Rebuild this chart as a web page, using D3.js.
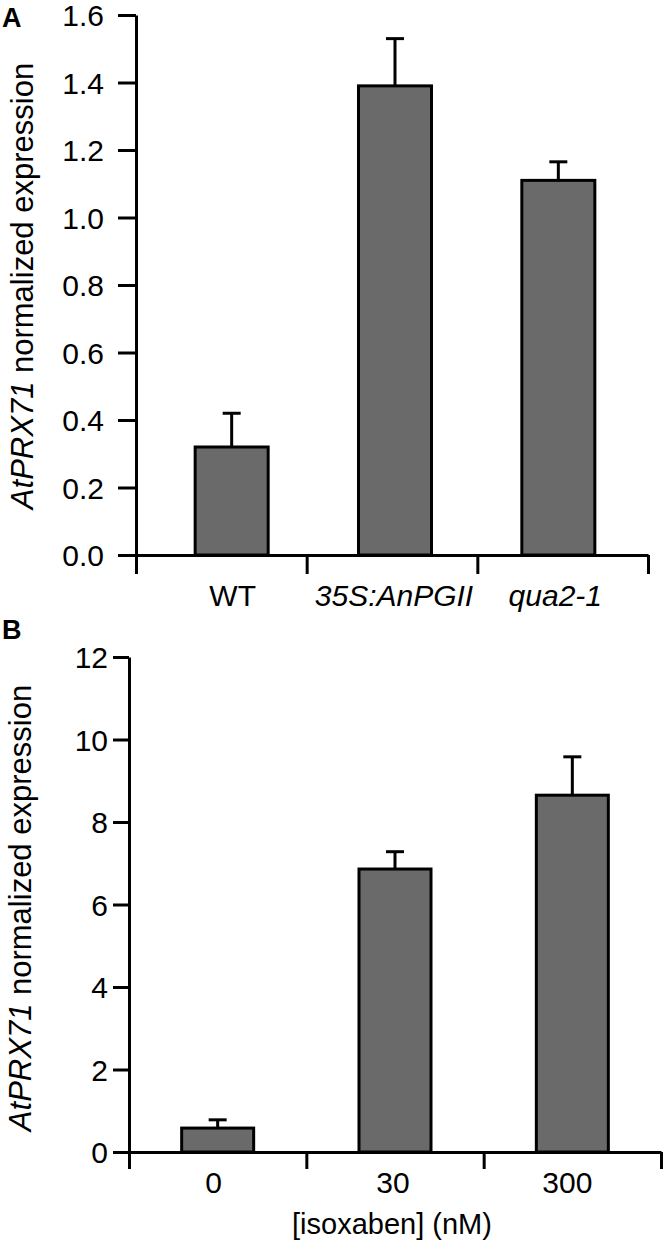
<!DOCTYPE html>
<html>
<head>
<meta charset="utf-8">
<script src="https://cdn.jsdelivr.net/npm/d3@7"></script>
<style>
  body { margin: 0; background: #fff; }
  svg text { font-family: "Liberation Sans", Arial, Helvetica, sans-serif; fill: #000; }
  .axis path, .axis line { stroke: #000; stroke-width: 3; }
</style>
</head>
<body>
<div id="vis"></div>
<script>
// Panel A: expression in genotypes
var categoriesA = ['WT', '35S:AnPGII', 'qua2-1'];
var italicA     = [false, true, true];
var meansA      = [0.32, 1.39, 1.11];
var errA        = [0.10, 0.14, 0.055];
var ticksA      = [0, 0.2, 0.4, 0.6, 0.8, 1.0, 1.2, 1.4, 1.6];

// Panel B: expression vs isoxaben dose
var categoriesB = ['0', '30', '300'];
var meansB      = [0.58, 6.86, 8.65];
var errB        = [0.20, 0.42, 0.93];
var ticksB      = [0, 2, 4, 6, 8, 10, 12];

var W = 666, H = 1243;
var svg = d3.select('#vis').append('svg')
  .attr('width', W).attr('height', H);

function panel(opt) {
  var g = svg.append('g');

  var y = d3.scaleLinear().domain(opt.yDomain).range([opt.y0, opt.y1]);
  // bar positions
  var xb = d3.scaleBand().domain(opt.cats).range(opt.barRange)
    .paddingInner(opt.pad).paddingOuter(opt.pad / 2);
  // category boundary ticks on the x axis
  var xt = d3.scaleLinear().domain([0, opt.cats.length]).range(opt.tickRange);

  // y axis
  var ya = g.append('g').attr('class', 'axis')
    .attr('transform', `translate(${opt.tickRange[0]},0)`)
    .call(d3.axisLeft(y).tickValues(opt.ticks).tickFormat(opt.fmt)
      .tickSize(opt.tickLen).tickSizeOuter(0).tickPadding(opt.tickPad));
  ya.selectAll('text').style('font-size', '30px').attr('dy', '0.36em');

  // x axis (boundary ticks pointing down)
  g.append('g').attr('class', 'axis')
    .attr('transform', `translate(0,${opt.y0})`)
    .call(d3.axisBottom(xt).tickValues(d3.range(opt.cats.length + 1))
      .tickFormat('').tickSize(opt.tickLen + 1).tickSizeOuter(0));

  // bars
  g.selectAll('rect.bar').data(opt.means).join('rect')
    .attr('class', 'bar')
    .attr('x', (d, i) => xb(opt.cats[i]))
    .attr('width', xb.bandwidth())
    .attr('y', d => y(d))
    .attr('height', d => y(0) - y(d))
    .attr('fill', '#6a6a6a')
    .attr('stroke', '#000')
    .attr('stroke-width', 3);

  // upper error bars
  var cx = (i) => xb(opt.cats[i]) + xb.bandwidth() / 2;
  g.selectAll('line.err').data(opt.means).join('line')
    .attr('class', 'err')
    .attr('x1', (d, i) => cx(i)).attr('x2', (d, i) => cx(i))
    .attr('y1', d => y(d)).attr('y2', (d, i) => y(d + opt.err[i]))
    .attr('stroke', '#000').attr('stroke-width', 3);
  g.selectAll('line.cap').data(opt.means).join('line')
    .attr('class', 'cap')
    .attr('x1', (d, i) => cx(i) - 9).attr('x2', (d, i) => cx(i) + 9)
    .attr('y1', (d, i) => y(d + opt.err[i])).attr('y2', (d, i) => y(d + opt.err[i]))
    .attr('stroke', '#000').attr('stroke-width', 3);

  // category labels
  g.selectAll('text.cat').data(opt.cats).join('text')
    .attr('class', 'cat')
    .attr('x', (d, i) => cx(i) + (opt.labelShift ? opt.labelShift[i] : 0))
    .attr('y', opt.labelY)
    .attr('text-anchor', 'middle')
    .style('font-size', '30px')
    .style('font-style', (d, i) => opt.italic && opt.italic[i] ? 'italic' : 'normal')
    .text(d => d);

  // y title
  var yt = g.append('text')
    .attr('transform', `translate(${opt.titleX},${opt.titleY}) rotate(-90)`)
    .attr('text-anchor', 'middle')
    .style('font-size', '31px');
  yt.append('tspan').style('font-style', 'italic').text('AtPRX71');
  yt.append('tspan').text(' normalized expression');

  // panel letter
  g.append('text').attr('x', 2).attr('y', opt.letterY)
    .style('font-size', '27px').style('font-weight', 'bold')
    .text(opt.letter);

  return g;
}

panel({
  cats: categoriesA, means: meansA, err: errA, italic: italicA,
  ticks: ticksA, fmt: d3.format('.1f'),
  yDomain: [0, 1.6], y0: 555, y1: 15,
  barRange: [150, 640], pad: 0.553,
  tickRange: [136, 648], tickLen: 18, tickPad: 14,
  labelY: 606, labelShift: [1, -1, -3],
  titleX: 33, titleY: 286,
  letter: 'A', letterY: 27
});

var gB = panel({
  cats: categoriesB, means: meansB, err: errB,
  ticks: ticksB, fmt: d3.format('d'),
  yDomain: [0, 12], y0: 1152, y1: 657,
  barRange: [129, 661], pad: 0.594,
  tickRange: [129, 661], tickLen: 16, tickPad: 5,
  labelY: 1193, labelShift: [-4, -2, -5],
  titleX: 31, titleY: 908,
  letter: 'B', letterY: 639
});

// x title for panel B
gB.append('text')
  .attr('x', 392).attr('y', 1234)
  .attr('text-anchor', 'middle')
  .style('font-size', '29px')
  .text('[isoxaben] (nM)');
</script>
</body>
</html>
